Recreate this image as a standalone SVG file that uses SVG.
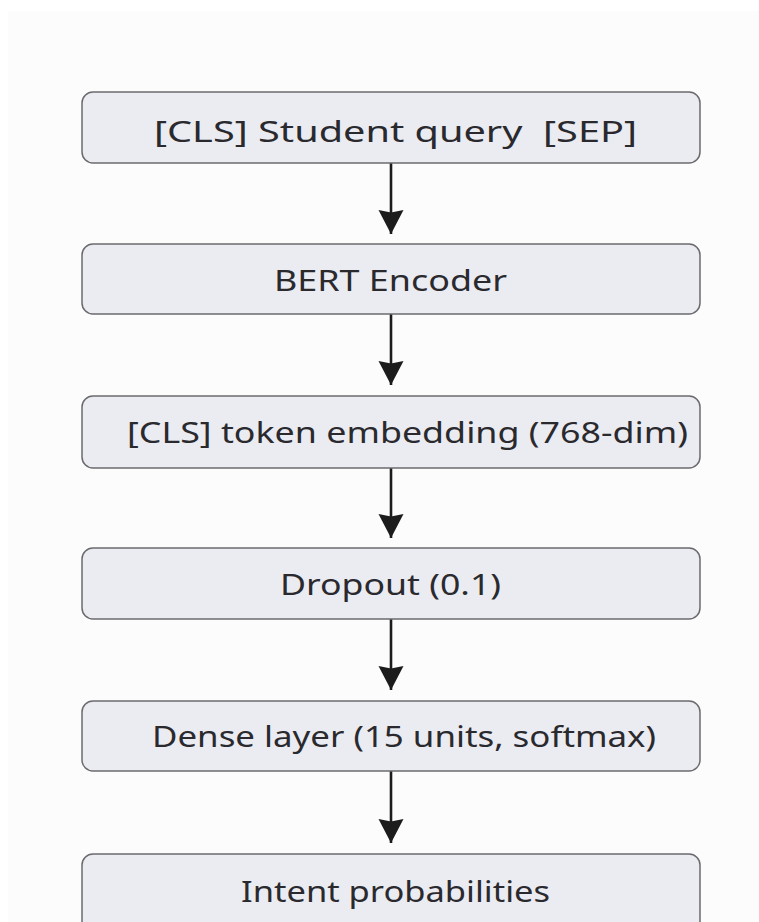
<svg xmlns="http://www.w3.org/2000/svg" width="759" height="922" viewBox="0 0 759 922">
  <defs>
    <style>
      .box { fill: #eaecf2; stroke: #6b6b6e; stroke-width: 1.5; }
      .label { font-family: "Noto Sans", "Open Sans", "DejaVu Sans", sans-serif; font-size: 29px; fill: #2a2a2e; text-anchor: middle; white-space: pre; }
      .wire { stroke: #1c1c1c; stroke-width: 2.6; fill: none; marker-end: url(#head); }
    </style>
    <!-- solid arrowhead with a shallow notch at the back; tip sits on the line end -->
    <marker id="head" markerUnits="userSpaceOnUse" markerWidth="26" markerHeight="26" viewBox="0 0 26 26" refX="24" refY="13" orient="auto">
      <path d="M0 0.5 L24 13 L0 25.5 L2.5 13 Z" fill="#1c1c1c"/>
    </marker>
  </defs>

  <!-- page -->
  <rect x="0" y="0" width="759" height="922" fill="#ffffff"/>
  <rect x="8" y="11" width="751" height="911" fill="#fdfcfd"/>

  <!-- connectors -->
  <g id="connectors">
    <line class="wire" x1="391" y1="163" x2="391" y2="234"/>
    <line class="wire" x1="391" y1="314" x2="391" y2="385"/>
    <line class="wire" x1="391" y1="468" x2="391" y2="538"/>
    <line class="wire" x1="391" y1="619" x2="391" y2="690"/>
    <line class="wire" x1="391" y1="771" x2="391" y2="843"/>
  </g>

  <g id="input">
    <rect class="box" x="82" y="92" width="618" height="71" rx="11"/>
    <text class="label" x="395.5" y="142" textLength="483" lengthAdjust="spacingAndGlyphs" xml:space="preserve">[CLS] Student query  [SEP]</text>
  </g>

  <g id="encoder">
    <rect class="box" x="82" y="244" width="618" height="70" rx="11"/>
    <text class="label" x="390.5" y="291" textLength="233" lengthAdjust="spacingAndGlyphs">BERT Encoder</text>
  </g>

  <g id="cls-embedding">
    <rect class="box" x="82" y="396" width="618" height="72" rx="11"/>
    <text class="label" x="407.5" y="443" textLength="561" lengthAdjust="spacingAndGlyphs">[CLS] token embedding (768-dim)</text>
  </g>

  <g id="dropout">
    <rect class="box" x="82" y="548" width="618" height="71" rx="11"/>
    <text class="label" x="390.5" y="595" textLength="221" lengthAdjust="spacingAndGlyphs">Dropout (0.1)</text>
  </g>

  <g id="dense">
    <rect class="box" x="82" y="701" width="618" height="70" rx="11"/>
    <text class="label" x="404" y="747" textLength="504" lengthAdjust="spacingAndGlyphs">Dense layer (15 units, softmax)</text>
  </g>

  <g id="output">
    <rect class="box" x="82" y="854" width="618" height="80" rx="11"/>
    <text class="label" x="395.5" y="902" textLength="309" lengthAdjust="spacingAndGlyphs">Intent probabilities</text>
  </g>
</svg>
